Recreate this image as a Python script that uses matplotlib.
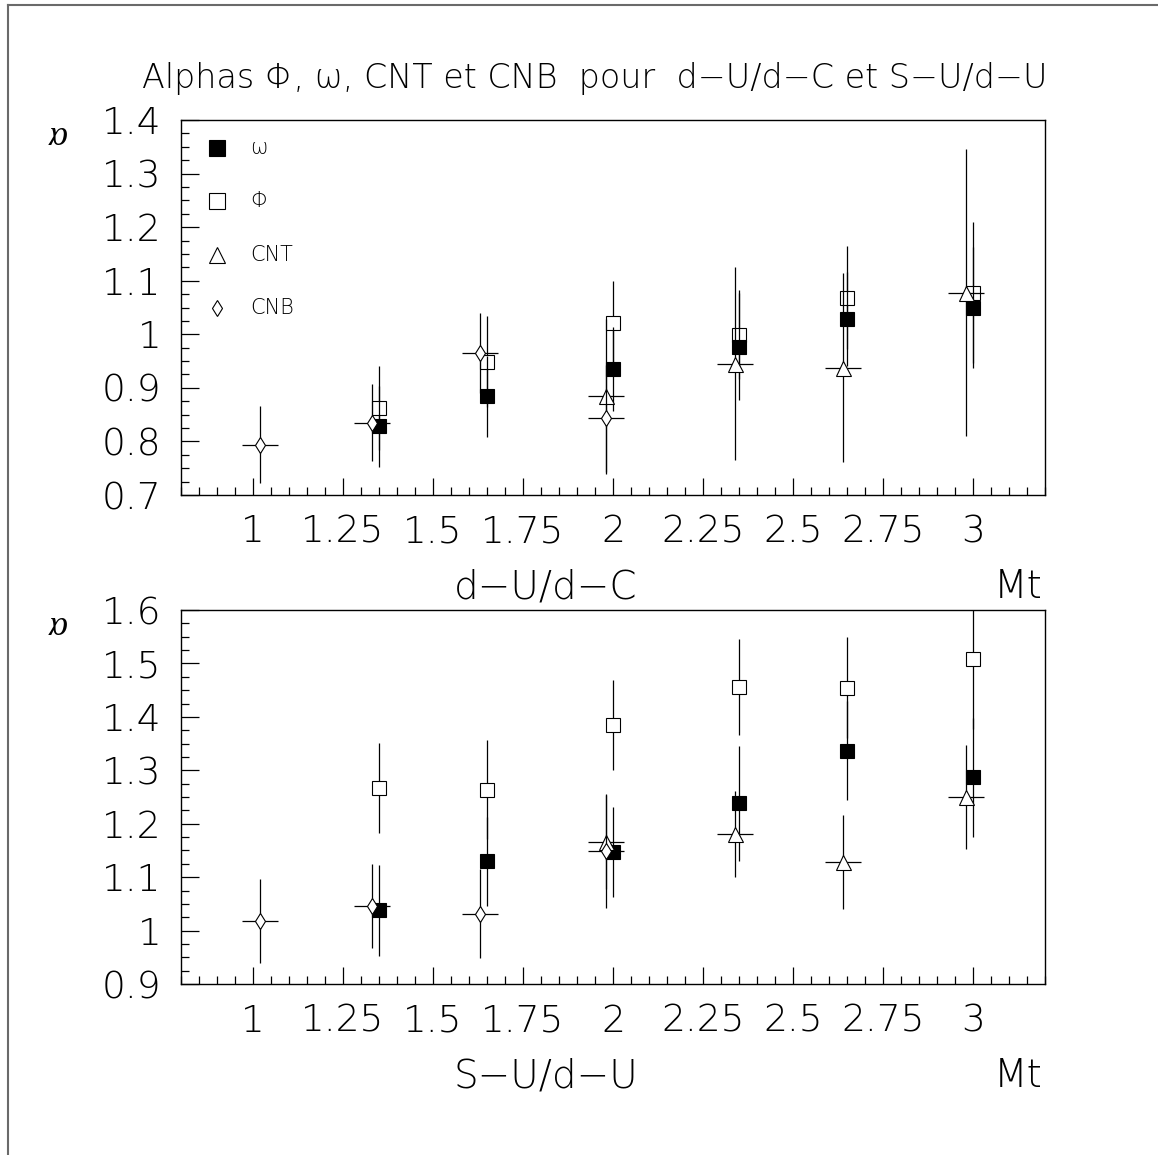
import matplotlib
matplotlib.use("Agg")
import matplotlib.pyplot as plt
from matplotlib import font_manager as fm
from matplotlib.lines import Line2D
from matplotlib.ticker import MultipleLocator, FuncFormatter

# ---------------- data ----------------
x_main = [1.35, 1.65, 2.00, 2.35, 2.65, 3.00]     # omega and phi
x_cnt = [1.98, 2.34, 2.64, 2.98]
x_cnb = [1.02, 1.33, 1.63, 1.98]
x_err_c = 0.05

# top panel : d-U/d-C
omega_top = [0.828, 0.884, 0.935, 0.977, 1.028, 1.050]
omega_top_err = [0.075, 0.076, 0.079, 0.100, 0.088, 0.113]
phi_top = [0.862, 0.949, 1.022, 0.999, 1.068, 1.078]
phi_top_err = [0.078, 0.085, 0.078, 0.083, 0.096, 0.132]
cnt_top = [0.884, 0.945, 0.938, 1.078]
cnt_top_err = [0.145, 0.180, 0.176, 0.268]
cnb_top = [0.794, 0.835, 0.965, 0.843]
cnb_top_err = [0.072, 0.072, 0.075, 0.100]

# bottom panel : S-U/d-U
omega_bot = [1.038, 1.130, 1.147, 1.238, 1.337, 1.287]
omega_bot_err = [0.085, 0.083, 0.084, 0.107, 0.093, 0.111]
phi_bot = [1.267, 1.264, 1.385, 1.456, 1.455, 1.508]
phi_bot_err = [0.085, 0.092, 0.084, 0.089, 0.094, 0.130]
cnt_bot = [1.166, 1.181, 1.129, 1.250]
cnt_bot_err = [0.088, 0.080, 0.088, 0.097]
cnb_bot = [1.018, 1.046, 1.032, 1.149]
cnb_bot_err = [0.079, 0.079, 0.084, 0.107]

legend_labels = ["ω", "Φ", "CNT", "CNB"]
title = "Alphas Φ, ω, CNT et CNB  pour  d−U/d−C et S−U/d−U"
xlabels = ["d−U/d−C", "S−U/d−U"]
ylims = [(0.7, 1.4), (0.9, 1.6)]

# ---------------- font ----------------
def _w(v):
    if isinstance(v, (int, float)):
        return v
    return {"ultralight": 200, "light": 300, "thin": 100, "extra-light": 200,
            "normal": 400, "regular": 400}.get(str(v).lower(), 400)

FAM, WEIGHT = "Liberation Sans", 400
for fam in ["DejaVu Sans", "Roboto", "Lato", "Open Sans", "Noto Sans"]:
    ws = sorted({_w(f.weight) for f in fm.fontManager.ttflist
                 if f.name == fam and f.style == "normal"})
    light = [w for w in ws if 100 <= w <= 300]
    if light:
        FAM, WEIGHT = fam, light[-1]
        break

plt.rcParams["font.family"] = [FAM, "DejaVu Sans"]
plt.rcParams["font.weight"] = WEIGHT

fig = plt.figure(figsize=(11.58, 11.55), dpi=100)

# frame lines (top and left)
fig.add_artist(Line2D([8 / 1158, 1.0], [1 - 4.5 / 1155] * 2, transform=fig.transFigure,
                      color="#6a6a6a", lw=1.5))
fig.add_artist(Line2D([8 / 1158] * 2, [0.0, 1 - 4.5 / 1155], transform=fig.transFigure,
                      color="#6a6a6a", lw=1.5))

axes_rects = [[0.156, 0.5714, 0.7464, 0.3247], [0.156, 0.148, 0.7464, 0.3238]]
panels = [
    (omega_top, omega_top_err, phi_top, phi_top_err, cnt_top, cnt_top_err, cnb_top, cnb_top_err),
    (omega_bot, omega_bot_err, phi_bot, phi_bot_err, cnt_bot, cnt_bot_err, cnb_bot, cnb_bot_err),
]

TICK_FS = 27
LAB_FS = 28
ms_sq = 10
ms_tri = 10.8
ms_dia = 7.8
mew = 0.8
elw = 0.9

fmt = FuncFormatter(lambda v, p: ("%g" % round(v, 3)))

for i, (rect, data, ylim, xl) in enumerate(zip(axes_rects, panels, ylims, xlabels)):
    om, ome, ph, phe, ct, cte, cb, cbe = data
    ax = fig.add_axes(rect)
    ax.set_xlim(0.8, 3.2)
    ax.set_ylim(*ylim)
    for s in ax.spines.values():
        s.set_linewidth(1.0)

    ax.errorbar(x_main, ph, yerr=phe, fmt="s", ms=ms_sq, mfc="white", mec="black",
                mew=mew, ecolor="black", elinewidth=elw, capsize=0, zorder=3)
    ax.errorbar(x_main, om, yerr=ome, fmt="s", ms=ms_sq, mfc="black", mec="black",
                mew=mew, ecolor="black", elinewidth=elw, capsize=0, zorder=4)
    ax.errorbar(x_cnt, ct, yerr=cte, xerr=x_err_c, fmt="^", ms=ms_tri, mfc="white",
                mec="black", mew=mew, ecolor="black", elinewidth=elw, capsize=0, zorder=5)
    ax.errorbar(x_cnb, cb, yerr=cbe, xerr=x_err_c, fmt="d", ms=ms_dia, mfc="white",
                mec="black", mew=mew, ecolor="black", elinewidth=elw, capsize=0, zorder=6)

    ax.xaxis.set_major_locator(MultipleLocator(0.25))
    ax.xaxis.set_minor_locator(MultipleLocator(0.05))
    ax.yaxis.set_major_locator(MultipleLocator(0.1))
    ax.yaxis.set_minor_locator(MultipleLocator(0.025))
    ax.xaxis.set_major_formatter(fmt)
    ax.yaxis.set_major_formatter(fmt)
    ax.tick_params(which="both", direction="in", top=False, right=False, width=0.9)
    ax.tick_params(which="major", length=12.6)
    ax.tick_params(which="minor", length=6.1)
    ax.tick_params(axis="x", which="major", pad=14, labelsize=TICK_FS)
    ax.tick_params(axis="y", which="major", pad=14, labelsize=TICK_FS)

    # axis titles
    bottom_px = (1 - rect[1]) * 1155
    fig.text(546 / 1158, 1 - (bottom_px + 103) / 1155, xl, ha="center", va="baseline",
             fontsize=LAB_FS)
    fig.text(1043 / 1158, 1 - (bottom_px + 103) / 1155, "Mt", ha="right", va="baseline",
             fontsize=LAB_FS)
    top_px = (1 - rect[1] - rect[3]) * 1155
    fig.text(56 / 1158, 1 - (top_px + 14) / 1155, "α", ha="center", va="center",
             fontsize=26, rotation=180, family=["Liberation Serif", "DejaVu Serif"],
             style="italic", weight="normal")

    if i == 0:
        handles = [
            dict(marker="s", ms=11.5, mfc="black"),
            dict(marker="s", ms=11.5, mfc="white"),
            dict(marker="^", ms=12, mfc="white"),
            dict(marker="d", ms=8.5, mfc="white"),
        ]
        for k, (lab, h) in enumerate(zip(legend_labels, handles)):
            yy = 0.926 - k * 0.1427
            ax.plot([0.0417], [yy], transform=ax.transAxes, ls="none", mec="black",
                    mew=mew, clip_on=False, zorder=7, **h)
            ax.text(0.080, yy, lab, transform=ax.transAxes, ha="left", va="center",
                    fontsize=15)

fig.text(595 / 1158, 1 - 88 / 1155, title, ha="center", va="baseline", fontsize=24)

fig.savefig("out.png", dpi=100)
